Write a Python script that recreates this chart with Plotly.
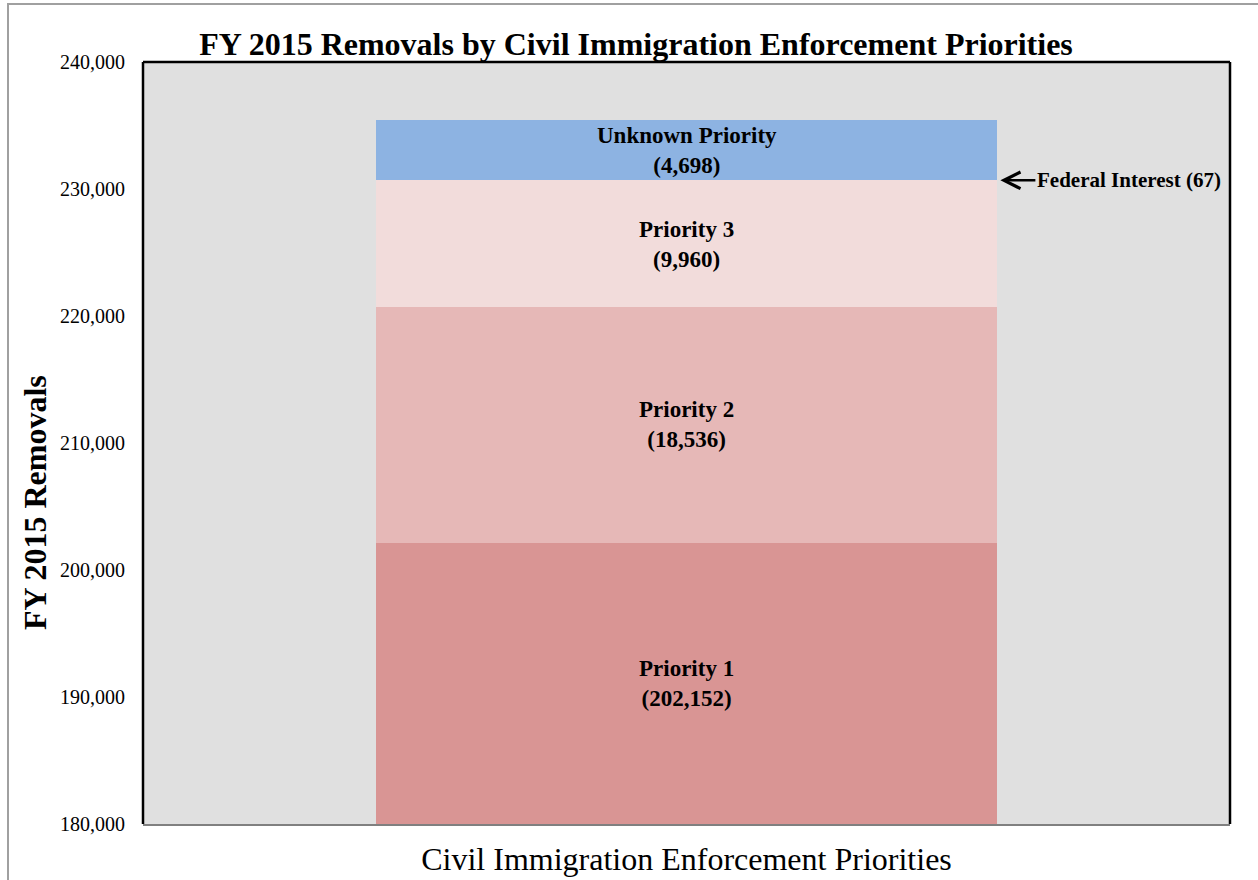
import plotly.graph_objects as go

# ---- data ----
category = ["FY 2015"]
segments = ["Priority 1", "Priority 2", "Priority 3", "Federal Interest", "Unknown Priority"]
values = [202152, 18536, 9960, 67, 4698]
colors = ["#d99594", "#e6b8b7", "#f2dcdb", "#f2dcdb", "#8db3e2"]
y_ticks = [180000, 190000, 200000, 210000, 220000, 230000, 240000]
y_range = [180000, 240000]

FONT = "Liberation Serif"
BAR_W = 0.572

fig = go.Figure()
cum = 0
annotations = []
for name, v, c in zip(segments, values, colors):
    fig.add_trace(go.Bar(x=category, y=[v], name=name, marker=dict(color=c, line=dict(width=0)),
                         width=BAR_W, showlegend=False, hoverinfo="name+y"))
    bottom, top = cum, cum + v
    cum = top
    if name == "Federal Interest":
        annotations.append(dict(
            x=BAR_W / 2, y=(bottom + top) / 2, xref="x", yref="y",
            text="<b>Federal Interest (%d)</b>" % v, showarrow=True,
            arrowhead=5, arrowsize=1.3, arrowwidth=2.5, arrowcolor="black",
            ax=38, ay=0, xanchor="left", standoff=3,
            font=dict(family=FONT, size=21, color="black")))
    else:
        vis_bottom = max(bottom, y_range[0])
        annotations.append(dict(
            x=0, y=(vis_bottom + top) / 2, xref="x", yref="y",
            text="<b>%s</b><br><b>(%s)</b>" % (name, f"{v:,}"), showarrow=False,
            font=dict(family=FONT, size=23, color="black")))

# y-axis title (placed as annotation, positioned like the reference)
annotations.append(dict(
    text="<b>FY 2015 Removals</b>", textangle=-90, showarrow=False,
    xref="paper", yref="paper", x=(35 - 143) / 1087, y=(824 - 503) / 762,
    xanchor="center", yanchor="middle",
    font=dict(family=FONT, size=32, color="black")))

fig.update_layout(
    barmode="stack",
    width=1258, height=880,
    margin=dict(l=143, r=28, t=62, b=56),
    paper_bgcolor="white",
    plot_bgcolor="#e0e0e0",
    title=dict(text="<b>FY 2015 Removals by Civil Immigration Enforcement Priorities</b>",
               x=636 / 1258, xanchor="center", y=1 - 44 / 880, yanchor="middle",
               font=dict(family=FONT, size=32, color="black")),
    xaxis=dict(showticklabels=False, ticks="", showgrid=False, zeroline=False,
               range=[-0.5, 0.5], showline=True, linecolor="#808080", linewidth=2,
               title=dict(text="Civil Immigration Enforcement Priorities", standoff=23,
                          font=dict(family=FONT, size=32, color="black"))),
    yaxis=dict(range=y_range, tickvals=y_ticks, ticktext=[f"{t:,}" for t in y_ticks],
               showgrid=False, zeroline=False, ticks="", ticklabelstandoff=17,
               tickfont=dict(family=FONT, size=20, color="black")),
    annotations=annotations,
    shapes=[
        dict(type="line", xref="paper", yref="paper", x0=0, x1=0, y0=0, y1=1,
             line=dict(color="black", width=2.5)),
        dict(type="line", xref="paper", yref="paper", x0=0, x1=1, y0=1, y1=1,
             line=dict(color="black", width=2.5)),
        dict(type="line", xref="paper", yref="paper", x0=1, x1=1, y0=0, y1=1,
             line=dict(color="black", width=2.5)),
        dict(type="rect", xref="paper", yref="paper",
             x0=(8 - 143) / 1087, x1=1.3, y0=-0.3, y1=(824 - 4) / 762,
             line=dict(color="#a0a0a0", width=2), layer="below"),
    ],
)

fig.write_html("out.html")
